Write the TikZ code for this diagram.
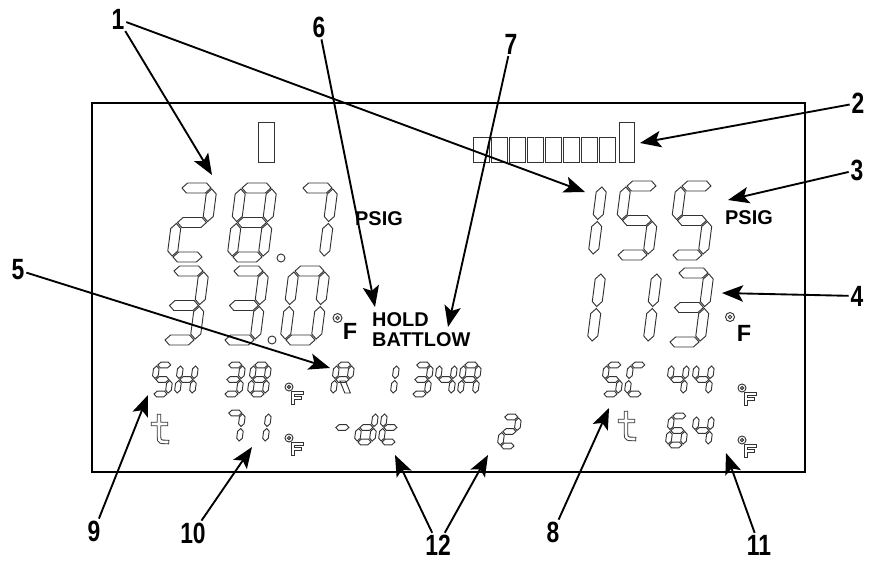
\documentclass[tikz,border=0pt]{standalone}
\usepackage{fontspec}
\setmainfont{Liberation Sans}
\newfontfamily\calloutfont[FakeStretch=0.78]{Liberation Sans}
\usetikzlibrary{arrows.meta}

% outlined LCD segments: (from, to, at, half thickness)
\newcommand\hseg[4]{\draw[lcdseg] (#1,#3) -- (#1+#4,#3+#4) -- (#2-#4,#3+#4) -- (#2,#3) -- (#2-#4,#3-#4) -- (#1+#4,#3-#4) -- cycle;}
\newcommand\vseg[4]{\draw[lcdseg] (#1,#2) -- (#1+#4,#2+#4) -- (#1+#4,#3-#4) -- (#1,#3) -- (#1-#4,#3-#4) -- (#1-#4,#2+#4) -- cycle;}
\newcommand\lcdsega[3]{\hseg{1}{#1-1}{#2}{#3}}
\newcommand\lcdsegb[3]{\vseg{#1}{#2/2+1}{#2-1}{#3}}
\newcommand\lcdsegc[3]{\vseg{#1}{1}{#2/2-1}{#3}}
\newcommand\lcdsegd[3]{\hseg{1}{#1-1}{0}{#3}}
\newcommand\lcdsege[3]{\vseg{0}{1}{#2/2-1}{#3}}
\newcommand\lcdsegf[3]{\vseg{0}{#2/2+1}{#2-1}{#3}}
\newcommand\lcdsegg[3]{\hseg{1}{#1-1}{#2/2}{#3}}
\newcommand\lcdsegr[3]{\draw[lcdseg] (#1*0.35,#2/2-1.5) -- (#1*0.35+#3*2,#2/2-1.5) -- (#1+#3*0.8,1) -- (#1-#3*1.2,1) -- cycle;}
% one character: x, y (bottom left), width, height, half thickness, segments
\newcommand\lcdchar[6]{%
  \begin{scope}[shift={(#1,#2)},yscale=-1,xslant=-0.13]
    \foreach \s in {#6}{\csname lcdseg\s\endcsname{#3}{#4}{#5}}
  \end{scope}}
\newcommand\bigchar[3]{\lcdchar{#1}{#2}{31}{69}{5}{#3}}
\newcommand\smallchar[3]{\lcdchar{#1}{#2}{15}{29}{2.8}{#3}}
% hollow strokes for the small letters
\newcommand\hollow[1]{\draw[hollow outer] #1; \draw[hollow inner] #1;}
\newcommand\degF[2]{%
  \draw[lcdseg] (#1,#2) circle (4) (#1,#2) circle (1.6);
  \hollow{(#1+4,#2+16) -- (#1+4,#2+6) -- (#1+13,#2+6) (#1+4,#2+11) -- (#1+11,#2+11)}}
\newcommand\tletter[2]{\hollow{(#1,#2) -- (#1,#2+21) .. controls (#1,#2+26) and (#1+2,#2+26) .. (#1+8,#2+26) (#1-6,#2+8) -- (#1+7,#2+8)}}

\begin{document}
\begin{tikzpicture}[x=0.03cm, y=-0.03cm,
  lcdseg/.style={draw=black!80, line width=0.8pt},
  hollow outer/.style={draw=black!80, line width=3.8pt, line cap=rect},
  hollow inner/.style={draw=white, line width=2.2pt, line cap=rect},
  unit/.style={font=\bfseries\fontsize{17}{17}\selectfont, inner sep=0pt},
  callout/.style={font=\calloutfont\bfseries\fontsize{25}{25}\selectfont, inner sep=1.5pt},
  callarrow/.style={line width=1.6pt, -{Stealth[length=18pt,width=14pt,inset=4pt]}}]
  \useasboundingbox (0,0) rectangle (878,561);

  % display frame
  \draw[line width=1.6pt] (92,103) rectangle (805,472);

  % bar graphs
  \draw[lcdseg] (258,122) rectangle (274,162);
  \foreach \i in {0,...,7}
    \draw[lcdseg] ({473+18*\i},137) rectangle ++(16,25);
  \draw[lcdseg] (619,122) rectangle (634,162);

  % left pressure 28.7 and temperature 33.0
  \bigchar{172}{257}{a,b,g,e,d}
  \bigchar{232}{257}{a,b,c,d,e,f,g}
  \draw[lcdseg] (281,258) circle (4);
  \bigchar{293}{257}{a,b,c}
  \bigchar{164}{340}{a,b,g,c,d}
  \bigchar{224}{340}{a,b,g,c,d}
  \draw[lcdseg] (272,340) circle (4);
  \bigchar{285}{340}{a,b,c,d,e,f}
  \draw[lcdseg] (337.5,318) circle (4.5) (337.5,318) circle (1.8);
  \node[unit, font=\bfseries\fontsize{20}{20}\selectfont] (FL) at (350,331) {F};
  \node[unit] (PSL) at (379,219) {PSIG};
  \node[unit, anchor=west] (HOLD) at (372,320) {HOLD};
  \node[unit, anchor=west] (BATT) at (372,340) {BATTLOW};

  % right pressure 155 and temperature 113
  \bigchar{593}{255}{e,f}
  \bigchar{617}{255}{a,f,g,c,d}
  \bigchar{672}{255}{a,f,g,c,d}
  \bigchar{592}{342}{e,f}
  \bigchar{617}{342}{b,c}
  \bigchar{669}{342}{a,b,g,c,d}
  \draw[lcdseg] (730,317) circle (4.5) (730,317) circle (1.8);
  \node[unit, font=\bfseries\fontsize{20}{20}\selectfont] (FR) at (744,333) {F};
  \node[unit] (PSR) at (749,218) {PSIG};

  % small rows, left
  \smallchar{153}{394}{a,f,g,c,d}
  \smallchar{177}{394}{b,c,e,f,g}
  \smallchar{224}{394}{a,b,g,c,d}
  \smallchar{250}{394}{a,b,c,d,e,f,g}
  \degF{289}{387}
  \smallchar{333}{394}{a,b,e,f,g,r}
  \smallchar{393}{394}{e,f}
  \smallchar{412}{394}{a,b,g,c,d}
  \smallchar{436}{394}{f,g,b,c}
  \smallchar{460}{394}{a,b,c,e,f,g}
  \tletter{159}{416}
  \smallchar{224}{442}{a,b,c}
  \smallchar{250}{442}{b,c}
  \degF{289}{438}
  \smallchar{333}{442}{g}
  \smallchar{357}{442}{b,c,d,e,g}
  \smallchar{381}{442}{d,e,f,g}
  \smallchar{500}{446}{a,b,g,e,d}

  % small rows, right
  \smallchar{603}{394}{a,f,g,c,d}
  \smallchar{627}{394}{a,d,e,f}
  \smallchar{668}{394}{f,g,b,c}
  \smallchar{693}{394}{f,g,b,c}
  \degF{742}{388}
  \tletter{626}{413}
  \smallchar{668}{445}{a,f,g,e,d,c}
  \smallchar{693}{445}{f,g,b,c}
  \degF{742}{440}

  % callout numbers
  \node[callout] (L1) at (118,19) {1};
  \node[callout] (L2) at (858,103) {2};
  \node[callout] (L3) at (857,170) {3};
  \node[callout] (L4) at (857,296) {4};
  \node[callout] (L5) at (18,270) {5};
  \node[callout] (L6) at (319,27) {6};
  \node[callout] (L7) at (511,44) {7};
  \node[callout] (L8) at (553,532) {8};
  \node[callout] (L9) at (94,531) {9};
  \node[callout] (L10) at (193,533) {10};
  \node[callout] (L11) at (759,545) {11};
  \node[callout] (L12) at (438,545) {12};

  % arrow tips
  \coordinate (T1a) at (212,175);
  \coordinate (T1b) at (585,192);
  \coordinate (T2) at (640,143);
  \coordinate (T3) at (728,200);
  \coordinate (T4) at (722,293);
  \coordinate (T5) at (330,368);
  \coordinate (T6) at (375,307);
  \coordinate (T7) at (448,327);
  \coordinate (T8) at (609,408);
  \coordinate (T9) at (148,395);
  \coordinate (T10) at (252,447);
  \coordinate (T11) at (726,453);
  \coordinate (T12a) at (395,455);
  \coordinate (T12b) at (488,455);

  \draw[callarrow] (L1) -- (T1a);
  \draw[callarrow] (L1) -- (T1b);
  \draw[callarrow] (L2) -- (T2);
  \draw[callarrow] (L3) -- (T3);
  \draw[callarrow] (L4) -- (T4);
  \draw[callarrow] (L5) -- (T5);
  \draw[callarrow] (L6) -- (T6);
  \draw[callarrow] (L7) -- (T7);
  \draw[callarrow] (L8) -- (T8);
  \draw[callarrow] (L9) -- (T9);
  \draw[callarrow] (L10) -- (T10);
  \draw[callarrow] (L11) -- (T11);
  \draw[callarrow] (L12) -- (T12a);
  \draw[callarrow] (L12) -- (T12b);
\end{tikzpicture}
\end{document}
